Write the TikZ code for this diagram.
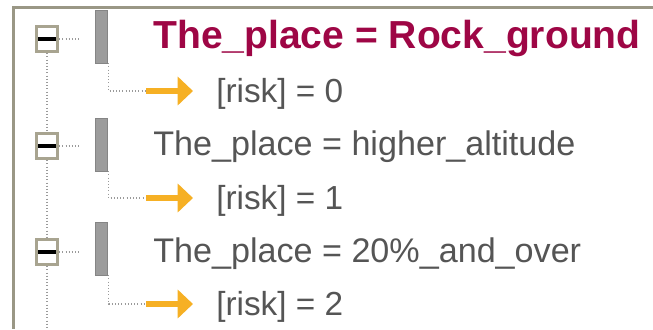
\documentclass[tikz,border=0pt]{standalone}
\usepackage{fontspec}
\setmainfont{Liberation Sans}
\usetikzlibrary{arrows.meta}
\definecolor{FrameGray}{HTML}{9A9785}
\definecolor{BoxTan}{HTML}{A8A490}
\definecolor{BarGray}{HTML}{9C9C9C}
\definecolor{DotGray}{HTML}{9A9A9A}
\definecolor{RuleMaroon}{HTML}{9E0645}
\definecolor{TextGray}{HTML}{555555}
\definecolor{ArrowGold}{HTML}{F6B024}

\begin{document}
\begin{tikzpicture}[x=0.75pt, y=-0.75pt,
    minusbox/.style={draw=BoxTan, line width=2.2pt, fill=white, minimum width=16pt, minimum height=19pt, inner sep=0pt},
    bar/.style={draw=BarGray!85!black, fill=BarGray, minimum width=9pt, minimum height=39.5pt, inner sep=0pt, anchor=north},
    dots/.style={DotGray, line width=0.8pt, dash pattern=on 0.8pt off 1.6pt},
    goal/.style={line width=5.2pt, ArrowGold, -{Triangle[length=11.5pt,width=21pt]}},
    rule/.style={anchor=base west, inner sep=0pt, font=\fontsize{29.3}{32}\selectfont\bfseries, text=RuleMaroon},
    cond/.style={anchor=base west, inner sep=0pt, font=\fontsize{25.6}{28}\selectfont, text=TextGray},
    risk/.style={anchor=base west, inner sep=0pt, font=\fontsize{25}{28}\selectfont, text=TextGray}]
        \useasboundingbox[fill=white] (0,0) rectangle (653,329);
        % frame of the tree view
        \draw[FrameGray, line width=2.25pt] (653,7) -- (13,7) -- (13,329);

        % expand boxes
        \node[minusbox] (box1) at (47,39) {};
        \node[minusbox] (box2) at (47,146) {};
        \node[minusbox] (box3) at (47,252) {};
        \draw[line width=3pt] ([xshift=-6.4pt]box1.center) -- ([xshift=6.4pt]box1.center);
        \draw[line width=3pt] ([xshift=-6.4pt]box2.center) -- ([xshift=6.4pt]box2.center);
        \draw[line width=3pt] ([xshift=-6.4pt]box3.center) -- ([xshift=6.4pt]box3.center);
        \draw[dots] (box1.south) -- (box2.north);
        \draw[dots] (box2.south) -- (box3.north);
        \draw[dots] (box3.south) -- (47,329);
        \draw[dots] (box1.east) -- ++(20,0);
        \draw[dots] (box2.east) -- ++(20,0);
        \draw[dots] (box3.east) -- ++(20,0);

        % gray bars
        \node[bar] (bar1) at (101,10) {};
        \node[bar] (bar2) at (101,118) {};
        \node[bar] (bar3) at (101,222) {};

        % rules
        \node[rule] (cond1) at (153,48) {The\_place = Rock\_ground};
        \node[cond] (cond2) at (153,155) {The\_place = higher\_altitude};
        \node[cond] (cond3) at (153,262) {The\_place = 20\%\_and\_over};
        \node[risk] (risk1) at (216,102) {[risk] = 0};
        \node[risk] (risk2) at (216,209) {[risk] = 1};
        \node[risk] (risk3) at (216,315) {[risk] = 2};

        % connectors to the results
        \coordinate (tail1) at (146,91);
        \coordinate (tail2) at (146,198);
        \coordinate (tail3) at (146,304);
        \draw[dots] ([xshift=1pt]bar1.south east) |- (tail1);
        \draw[dots] ([xshift=1pt]bar2.south east) |- (tail2);
        \draw[dots] ([xshift=1pt]bar3.south east) |- (tail3);
        \draw[goal] (tail1) -- ++(47,0);
        \draw[goal] (tail2) -- ++(47,0);
        \draw[goal] (tail3) -- ++(47,0);
      \end{tikzpicture}
\end{document}
